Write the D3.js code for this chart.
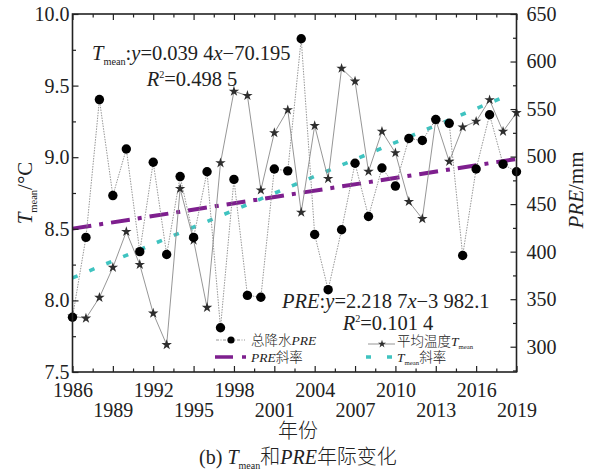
<!DOCTYPE html>
<html><head><meta charset="utf-8">
<script src="https://cdn.jsdelivr.net/npm/d3@7"></script>
<style>
html,body{margin:0;padding:0;background:#fff;}
svg{display:block;}
text{font-family:'Liberation Serif','Times New Roman','Noto Sans CJK SC',serif;fill:#222;}
</style></head><body>
<svg id="chart" width="596" height="474"></svg>
<script>
// ---------- data ----------
const years = [1986,1987,1988,1989,1990,1991,1992,1993,1994,1995,1996,1997,1998,1999,2000,2001,2002,
               2003,2004,2005,2006,2007,2008,2009,2010,2011,2012,2013,2014,2015,2016,2017,2018,2019];
const preValues = [331,415,560,459,508,400,494,397,479,415,484,320,476,354,352,487,485,
                   624,418,360,423,493,437,488,469,519,517,539,535,396,487,544,492,484];
const tmeanValues = [7.89,7.875,8.02,8.23,8.48,8.25,7.91,7.69,8.78,8.42,7.95,8.96,9.46,9.43,8.77,9.17,9.33,
                     8.615,9.22,8.85,9.62,9.53,8.90,9.18,9.03,8.69,8.57,9.26,8.97,9.21,9.25,9.40,9.18,9.31];
const preTrendYears = [1986, 2019];
const preTrend = [424.2, 497.5];
const tmeanTrendYears = [1986, 2018];
const tmeanTrend = [8.157, 9.418];
const xTickYears = [1986,1989,1992,1995,1998,2001,2004,2007,2010,2013,2016,2019];
const xMinorYears = [1987.5,1990.5,1993.5,1996.5,1999.5,2002.5,2005.5,2008.5,2011.5,2014.5,2017.5];
const leftTicks = [7.5,8.0,8.5,9.0,9.5,10.0];
const leftMinor = [7.75,8.25,8.75,9.25,9.75];
const rightTicks = [300,350,400,450,500,550,600,650];
const rightMinor = [275,325,375,425,475,525,575,625];

// ---------- setup ----------
const svg = d3.select("#chart");
const X0 = 72.5, X1 = 516.5, Y0 = 14, Y1 = 372;
const x = d3.scaleLinear().domain([1986, 2019]).range([X0, X1]);
const yL = d3.scaleLinear().domain([7.5, 10]).range([Y1, Y0]);
const yR = d3.scaleLinear().domain([273.4, 650]).range([Y1, Y0]);
const ink = "#222";
const purple = "#7e1f8e", cyan = "#3fc3c0";

function rich(t, parts, size){
  let shift = 0;
  parts.forEach(p=>{
    const ts = t.append("tspan").text(p.t);
    let target = 0;
    if (p.sub) target = size*0.25;
    if (p.sup) target = -size*0.38;
    const fs = (p.sub||p.sup) ? size*0.5 : size;
    ts.attr("font-size", fs);
    if (target !== shift){ ts.attr("dy", target - shift); shift = target; }
    if (p.i) ts.attr("font-style","italic");
    if (p.cjk) ts.attr("font-family","'Noto Sans CJK SC',sans-serif").attr("font-weight",300);
  });
  return t;
}

// ---------- trend lines ----------
const trendData = (yrs, vals)=> yrs.map((yr,i)=>({yr, v: vals[i]}));
svg.append("path").datum(trendData(tmeanTrendYears, tmeanTrend))
  .attr("d", d3.line().x(d=>x(d.yr)).y(d=>yL(d.v)))
  .attr("fill","none").attr("stroke",cyan).attr("stroke-width",3.6)
  .attr("stroke-dasharray","5.5,12.8");
svg.append("path").datum(trendData(preTrendYears, preTrend))
  .attr("d", d3.line().x(d=>x(d.yr)).y(d=>yR(d.v)))
  .attr("fill","none").attr("stroke",purple).attr("stroke-width",4)
  .attr("stroke-dasharray","19,8,4,8");

// ---------- series lines ----------
const rows = years.map((yr,i)=>({yr, pre: preValues[i], t: tmeanValues[i]}));
svg.append("path").datum(rows)
  .attr("d", d3.line().x(d=>x(d.yr)).y(d=>yL(d.t)))
  .attr("fill","none").attr("stroke","#8a8a8a").attr("stroke-width",0.9);
svg.append("path").datum(rows)
  .attr("d", d3.line().x(d=>x(d.yr)).y(d=>yR(d.pre)))
  .attr("fill","none").attr("stroke","#8a8a8a").attr("stroke-width",0.9)
  .attr("stroke-dasharray","1.5,1.2");

// ---------- markers ----------
const star = d3.symbol().type(d3.symbolStar).size(34);
svg.append("g").selectAll("path").data(rows).join("path")
  .attr("d", star).attr("transform", d=>`translate(${x(d.yr)},${yL(d.t)})`)
  .attr("fill","#2e2e2e");
svg.append("g").selectAll("circle").data(rows).join("circle")
  .attr("cx", d=>x(d.yr)).attr("cy", d=>yR(d.pre)).attr("r",4.7).attr("fill","#000");

// ---------- annotations ----------
rich(svg.append("text").attr("x",92).attr("y",60),
  [{t:"T",i:1},{t:"mean",sub:1},{t:":"},{t:"y",i:1},{t:"=0.039 4"},{t:"x",i:1},{t:"−70.195"}], 20.5);
rich(svg.append("text").attr("x",192).attr("y",86).attr("text-anchor","middle"),
  [{t:"R",i:1},{t:"2",sup:1},{t:"=0.498 5"}], 20.5);
rich(svg.append("text").attr("x",282).attr("y",307.5),
  [{t:"PRE",i:1},{t:":"},{t:"y",i:1},{t:"=2.218 7"},{t:"x",i:1},{t:"−3 982.1"}], 20.5);
rich(svg.append("text").attr("x",388).attr("y",330).attr("text-anchor","middle"),
  [{t:"R",i:1},{t:"2",sup:1},{t:"=0.101 4"}], 20.5);

// ---------- legend ----------
const lg = svg.append("g");
lg.append("line").attr("x1",216).attr("x2",245).attr("y1",340).attr("y2",340)
  .attr("stroke","#8a8a8a").attr("stroke-width",0.9).attr("stroke-dasharray","3,1.5,1,1.5");
lg.append("circle").attr("cx",231).attr("cy",340).attr("r",3.6).attr("fill","#000");
rich(lg.append("text").attr("x",251).attr("y",345),
  [{t:"总降水",cjk:1},{t:"PRE",i:1}], 13.5);
lg.append("line").attr("x1",215).attr("x2",247).attr("y1",357).attr("y2",357)
  .attr("stroke",purple).attr("stroke-width",3.6).attr("stroke-dasharray","18,9,4,20");
rich(lg.append("text").attr("x",251).attr("y",361.5),
  [{t:"PRE",i:1},{t:"斜率",cjk:1}], 13.5);
lg.append("line").attr("x1",368).attr("x2",395).attr("y1",344).attr("y2",344)
  .attr("stroke","#8a8a8a").attr("stroke-width",0.9);
lg.append("path").attr("d", d3.symbol().type(d3.symbolStar).size(20))
  .attr("transform","translate(382,344)").attr("fill","#2e2e2e");
rich(lg.append("text").attr("x",397).attr("y",346),
  [{t:"平均温度",cjk:1},{t:"T",i:1},{t:"mean",sub:1}], 13.5);
lg.append("line").attr("x1",366).attr("x2",392).attr("y1",357).attr("y2",357)
  .attr("stroke",cyan).attr("stroke-width",3.4).attr("stroke-dasharray","5,16,5,30");
rich(lg.append("text").attr("x",397).attr("y",361.5),
  [{t:"T",i:1},{t:"mean",sub:1},{t:"斜率",cjk:1}], 13.5);

// ---------- axes ----------
function styleAxis(g){
  g.select(".domain").remove();
  g.selectAll("line").attr("stroke",ink).attr("stroke-width",1.2);
  g.selectAll("text").attr("font-size",20).attr("fill",ink)
    .attr("font-family","'Liberation Serif','Times New Roman',serif");
}
// bottom
const gb = svg.append("g").attr("transform",`translate(0,${Y1})`)
  .call(d3.axisBottom(x).tickValues(xTickYears).tickSize(-6).tickSizeOuter(0).tickFormat(d3.format("d")));
styleAxis(gb);
gb.selectAll("text").attr("dy",null).attr("y",(d,i)=> i%2 ? 45.3 : 24.7);
svg.append("g").attr("transform",`translate(0,${Y1})`)
  .call(d3.axisBottom(x).tickValues(xMinorYears).tickSize(-3.5).tickFormat("")).call(styleAxis);
// top
svg.append("g").attr("transform",`translate(0,${Y0})`)
  .call(d3.axisTop(x).tickValues(xTickYears).tickSize(-6).tickFormat("")).call(styleAxis);
svg.append("g").attr("transform",`translate(0,${Y0})`)
  .call(d3.axisTop(x).tickValues(xMinorYears).tickSize(-3.5).tickFormat("")).call(styleAxis);
// left
const gl = svg.append("g").attr("transform",`translate(${X0},0)`)
  .call(d3.axisLeft(yL).tickValues(leftTicks).tickSize(-6).tickPadding(3).tickFormat(d3.format(".1f")));
styleAxis(gl);
svg.append("g").attr("transform",`translate(${X0},0)`)
  .call(d3.axisLeft(yL).tickValues(leftMinor).tickSize(-3.5).tickFormat("")).call(styleAxis);
// right
const gr = svg.append("g").attr("transform",`translate(${X1},0)`)
  .call(d3.axisRight(yR).tickValues(rightTicks).tickSize(-6).tickPadding(10).tickFormat(d3.format("d")));
styleAxis(gr);
svg.append("g").attr("transform",`translate(${X1},0)`)
  .call(d3.axisRight(yR).tickValues(rightMinor).tickSize(-3.5).tickFormat("")).call(styleAxis);

// frame
svg.append("rect").attr("x",X0).attr("y",Y0).attr("width",X1-X0).attr("height",Y1-Y0)
  .attr("fill","none").attr("stroke",ink).attr("stroke-width",1.6);

// ---------- axis titles ----------
rich(svg.append("text").attr("transform",`translate(32,${(Y0+Y1)/2}) rotate(-90)`).attr("text-anchor","middle"),
  [{t:"T",i:1},{t:"mean",sub:1},{t:"/°C"}], 21);
rich(svg.append("text").attr("transform",`translate(583,${(Y0+Y1)/2 - 3}) rotate(-90)`).attr("text-anchor","middle"),
  [{t:"PRE",i:1},{t:"/mm"}], 21);
rich(svg.append("text").attr("x",298).attr("y",438).attr("text-anchor","middle"),
  [{t:"年份",cjk:1}], 20);
rich(svg.append("text").attr("x",298).attr("y",464).attr("text-anchor","middle"),
  [{t:"(b) "},{t:"T",i:1},{t:"mean",sub:1},{t:"和",cjk:1},{t:"PRE",i:1},{t:"年际变化",cjk:1}], 20);
</script>
</body></html>
